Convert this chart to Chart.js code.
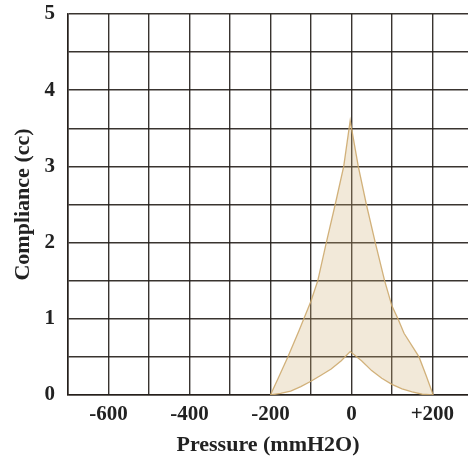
<!DOCTYPE html>
<html>
<head>
<meta charset="utf-8">
<script src="https://cdn.jsdelivr.net/npm/chart.js@4/dist/chart.umd.min.js"></script>
<style>
  html, body { margin: 0; padding: 0; background: #fff; }
  #wrap { width: 468px; height: 468px; }
</style>
</head>
<body>
<div id="wrap"><canvas id="c" width="468" height="468"></canvas></div>
<script>
// Outer curve (Pressure mmH2O, Compliance cc)
const outerX = [-200, -180, -157, -129, -100, -83, -62, -40, -19, -3, 17, 37, 59, 82, 100, 115, 130, 167, 185, 202];
const outerY = [0, 0.23, 0.5, 0.85, 1.23, 1.5, 2.0, 2.5, 3.0, 3.6, 3.0, 2.5, 2.0, 1.5, 1.17, 1.0, 0.81, 0.5, 0.25, 0];
// Inner curve
const innerX = [-200, -175, -150, -125, -100, -75, -50, -25, -3, 25, 50, 75, 100, 125, 150, 175, 202];
const innerY = [0, 0.02, 0.05, 0.11, 0.18, 0.26, 0.34, 0.45, 0.57, 0.45, 0.32, 0.22, 0.14, 0.08, 0.04, 0.01, 0];
// Axis tick labels
const xTickLabels = { '-600': '-600', '-400': '-400', '-200': '-200', '0': '0', '200': '+200' };
const yTickLabels = { '0': '0', '1': '1', '2': '2', '3': '3', '4': '4', '5': '5' };

const shape = [];
for (let i = 0; i < outerX.length; i++) shape.push({ x: outerX[i], y: outerY[i] });
for (let i = innerX.length - 1; i >= 0; i--) shape.push({ x: innerX[i], y: innerY[i] });

const serif = '"Liberation Serif", "DejaVu Serif", serif';
const gridColor = 'rgba(35,30,25,0.9)';

new Chart(document.getElementById('c'), {
  type: 'scatter',
  data: {
    datasets: [{
      data: shape,
      showLine: true,
      fill: 'shape',
      backgroundColor: 'rgba(210,175,120,0.28)',
      borderColor: 'rgba(205,170,110,0.9)',
      borderWidth: 1.3,
      pointRadius: 0,
      tension: 0
    }]
  },
  options: {
    responsive: false,
    animation: false,
    layout: { padding: { top: 14, right: 0, left: 0, bottom: 0 } },
    plugins: { legend: { display: false }, tooltip: { enabled: false } },
    scales: {
      x: {
        type: 'linear',
        min: -700,
        max: 288,
        afterFit: (s) => { s.height = 73; s.paddingLeft = 0; s.paddingRight = 0; },
        ticks: {
          stepSize: 100,
          includeBounds: false,
          autoSkip: false,
          maxRotation: 0,
          padding: 7,
          color: '#222',
          font: { family: serif, size: 21, weight: 'bold' },
          callback: (v) => xTickLabels[String(v)] || ''
        },
        grid: { color: gridColor, lineWidth: 1.4, drawTicks: false },
        border: { color: gridColor, width: 1.6 },
        title: {
          display: true,
          text: 'Pressure (mmH2O)',
          color: '#222',
          font: { family: serif, size: 22, weight: 'bold' },
          padding: { top: 0, bottom: 9 }
        }
      },
      y: {
        type: 'linear',
        min: 0,
        max: 5,
        afterFit: (s) => { s.width = 68; s.paddingTop = 0; s.paddingBottom = 0; },
        ticks: {
          stepSize: 0.5,
          autoSkip: false,
          padding: 13,
          color: '#222',
          font: { family: serif, size: 21, weight: 'bold' },
          callback: (v) => yTickLabels[String(v)] || ''
        },
        grid: { color: gridColor, lineWidth: 1.4, drawTicks: false },
        border: { color: gridColor, width: 1.6 },
        title: {
          display: true,
          text: 'Compliance (cc)',
          color: '#222',
          font: { family: serif, size: 22, weight: 'bold' },
          padding: { top: 10, bottom: 0 }
        }
      }
    }
  }
});
</script>
</body>
</html>
